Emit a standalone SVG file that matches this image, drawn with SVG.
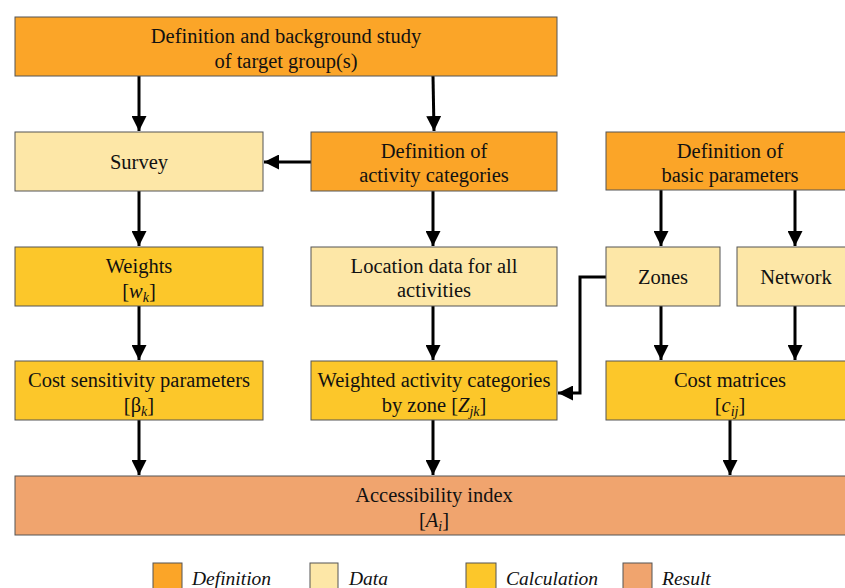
<svg xmlns="http://www.w3.org/2000/svg" width="845" height="588" viewBox="0 0 845 588">
<defs>
<style>
.def{fill:#FBA528;stroke:#555;stroke-width:1}
.dat{fill:#FDE7A7;stroke:#555;stroke-width:1}
.cal{fill:#FCC72A;stroke:#555;stroke-width:1}
.res{fill:#F0A46E;stroke:#555;stroke-width:1}
text{font-family:"Liberation Serif","DejaVu Serif",serif;font-size:20.5px;fill:#111;text-anchor:middle}
.m{font-style:italic}
.s{font-size:14px;font-style:italic}
.leg{text-anchor:start;font-style:italic;font-size:19.5px}
.c{fill:none;stroke:#000;stroke-width:3}
</style>
<marker id="ah" viewBox="0 0 10 10" refX="10" refY="5" markerWidth="5" markerHeight="5" markerUnits="strokeWidth" orient="auto">
<path d="M0,0L10,5L0,10z" fill="#000"/>
</marker>
</defs>
<rect width="845" height="588" fill="#fff"/>
<g id="connectors">
<path class="c" d="M139,76V131" marker-end="url(#ah)"/>
<path class="c" d="M433,76L434,131" marker-end="url(#ah)"/>
<path class="c" d="M311,162H264" marker-end="url(#ah)"/>
<path class="c" d="M661,190V246" marker-end="url(#ah)"/>
<path class="c" d="M795,190V246" marker-end="url(#ah)"/>
<path class="c" d="M139,191V246" marker-end="url(#ah)"/>
<path class="c" d="M433,191V246" marker-end="url(#ah)"/>
<path class="c" d="M661,306V360" marker-end="url(#ah)"/>
<path class="c" d="M795,306V360" marker-end="url(#ah)"/>
<path class="c" d="M139,306V360" marker-end="url(#ah)"/>
<path class="c" d="M433,306V360" marker-end="url(#ah)"/>
<path class="c" d="M606,277H580V393H558" marker-end="url(#ah)"/>
<path class="c" d="M139,420V475" marker-end="url(#ah)"/>
<path class="c" d="M433,420V475" marker-end="url(#ah)"/>
<path class="c" d="M730,420V475" marker-end="url(#ah)"/>
</g>
<g id="target"><rect class="def" x="15" y="17" width="542" height="59"/><text x="286" y="43">Definition and background study</text><text x="286" y="68">of target group(s)</text></g>
<g id="survey"><rect class="dat" x="15" y="132" width="248" height="59"/><text x="139" y="169">Survey</text></g>
<g id="defact"><rect class="def" x="311" y="132" width="246" height="59"/><text x="434" y="158">Definition of</text><text x="434" y="182">activity categories</text></g>
<g id="defbasic"><rect class="def" x="606" y="132" width="245" height="58"/><text x="730" y="158">Definition of</text><text x="730" y="182">basic parameters</text></g>
<g id="weights"><rect class="cal" x="15" y="247" width="248" height="59"/><text x="139" y="273">Weights</text><text x="139" y="298">[<tspan class="m">w</tspan><tspan class="s" dy="4">k</tspan><tspan dy="-4">]</tspan></text></g>
<g id="location"><rect class="dat" x="311" y="247" width="246" height="59"/><text x="434" y="273">Location data for all</text><text x="434" y="297">activities</text></g>
<g id="zones"><rect class="dat" x="606" y="247" width="114" height="59"/><text x="663" y="284">Zones</text></g>
<g id="network"><rect class="dat" x="737" y="247" width="114" height="59"/><text x="796" y="284">Network</text></g>
<g id="costsens"><rect class="cal" x="15" y="361" width="248" height="59"/><text x="139" y="387">Cost sensitivity parameters</text><text x="139" y="412">[β<tspan class="s" dy="4">k</tspan><tspan dy="-4">]</tspan></text></g>
<g id="weighted"><rect class="cal" x="311" y="361" width="246" height="59"/><text x="434" y="387">Weighted activity categories</text><text x="434" y="412">by zone [<tspan class="m">Z</tspan><tspan class="s" dy="4">jk</tspan><tspan dy="-4">]</tspan></text></g>
<g id="costmat"><rect class="cal" x="606" y="361" width="245" height="59"/><text x="730" y="387">Cost matrices</text><text x="730" y="412">[<tspan class="m">c</tspan><tspan class="s" dy="4">ij</tspan><tspan dy="-4">]</tspan></text></g>
<g id="access"><rect class="res" x="15" y="476" width="836" height="59"/><text x="434" y="502">Accessibility index</text><text x="434" y="527">[<tspan class="m">A</tspan><tspan class="s" dy="4">i</tspan><tspan dy="-4">]</tspan></text></g>
<g id="legend">
<rect class="def" x="153" y="563" width="29" height="30"/><text class="leg" x="192" y="585">Definition</text>
<rect class="dat" x="310" y="563" width="28" height="30"/><text class="leg" x="349" y="585">Data</text>
<rect class="cal" x="466" y="563" width="30" height="30"/><text class="leg" x="506" y="585">Calculation</text>
<rect class="res" x="623" y="563" width="29" height="30"/><text class="leg" x="662" y="585">Result</text>
</g>
</svg>
